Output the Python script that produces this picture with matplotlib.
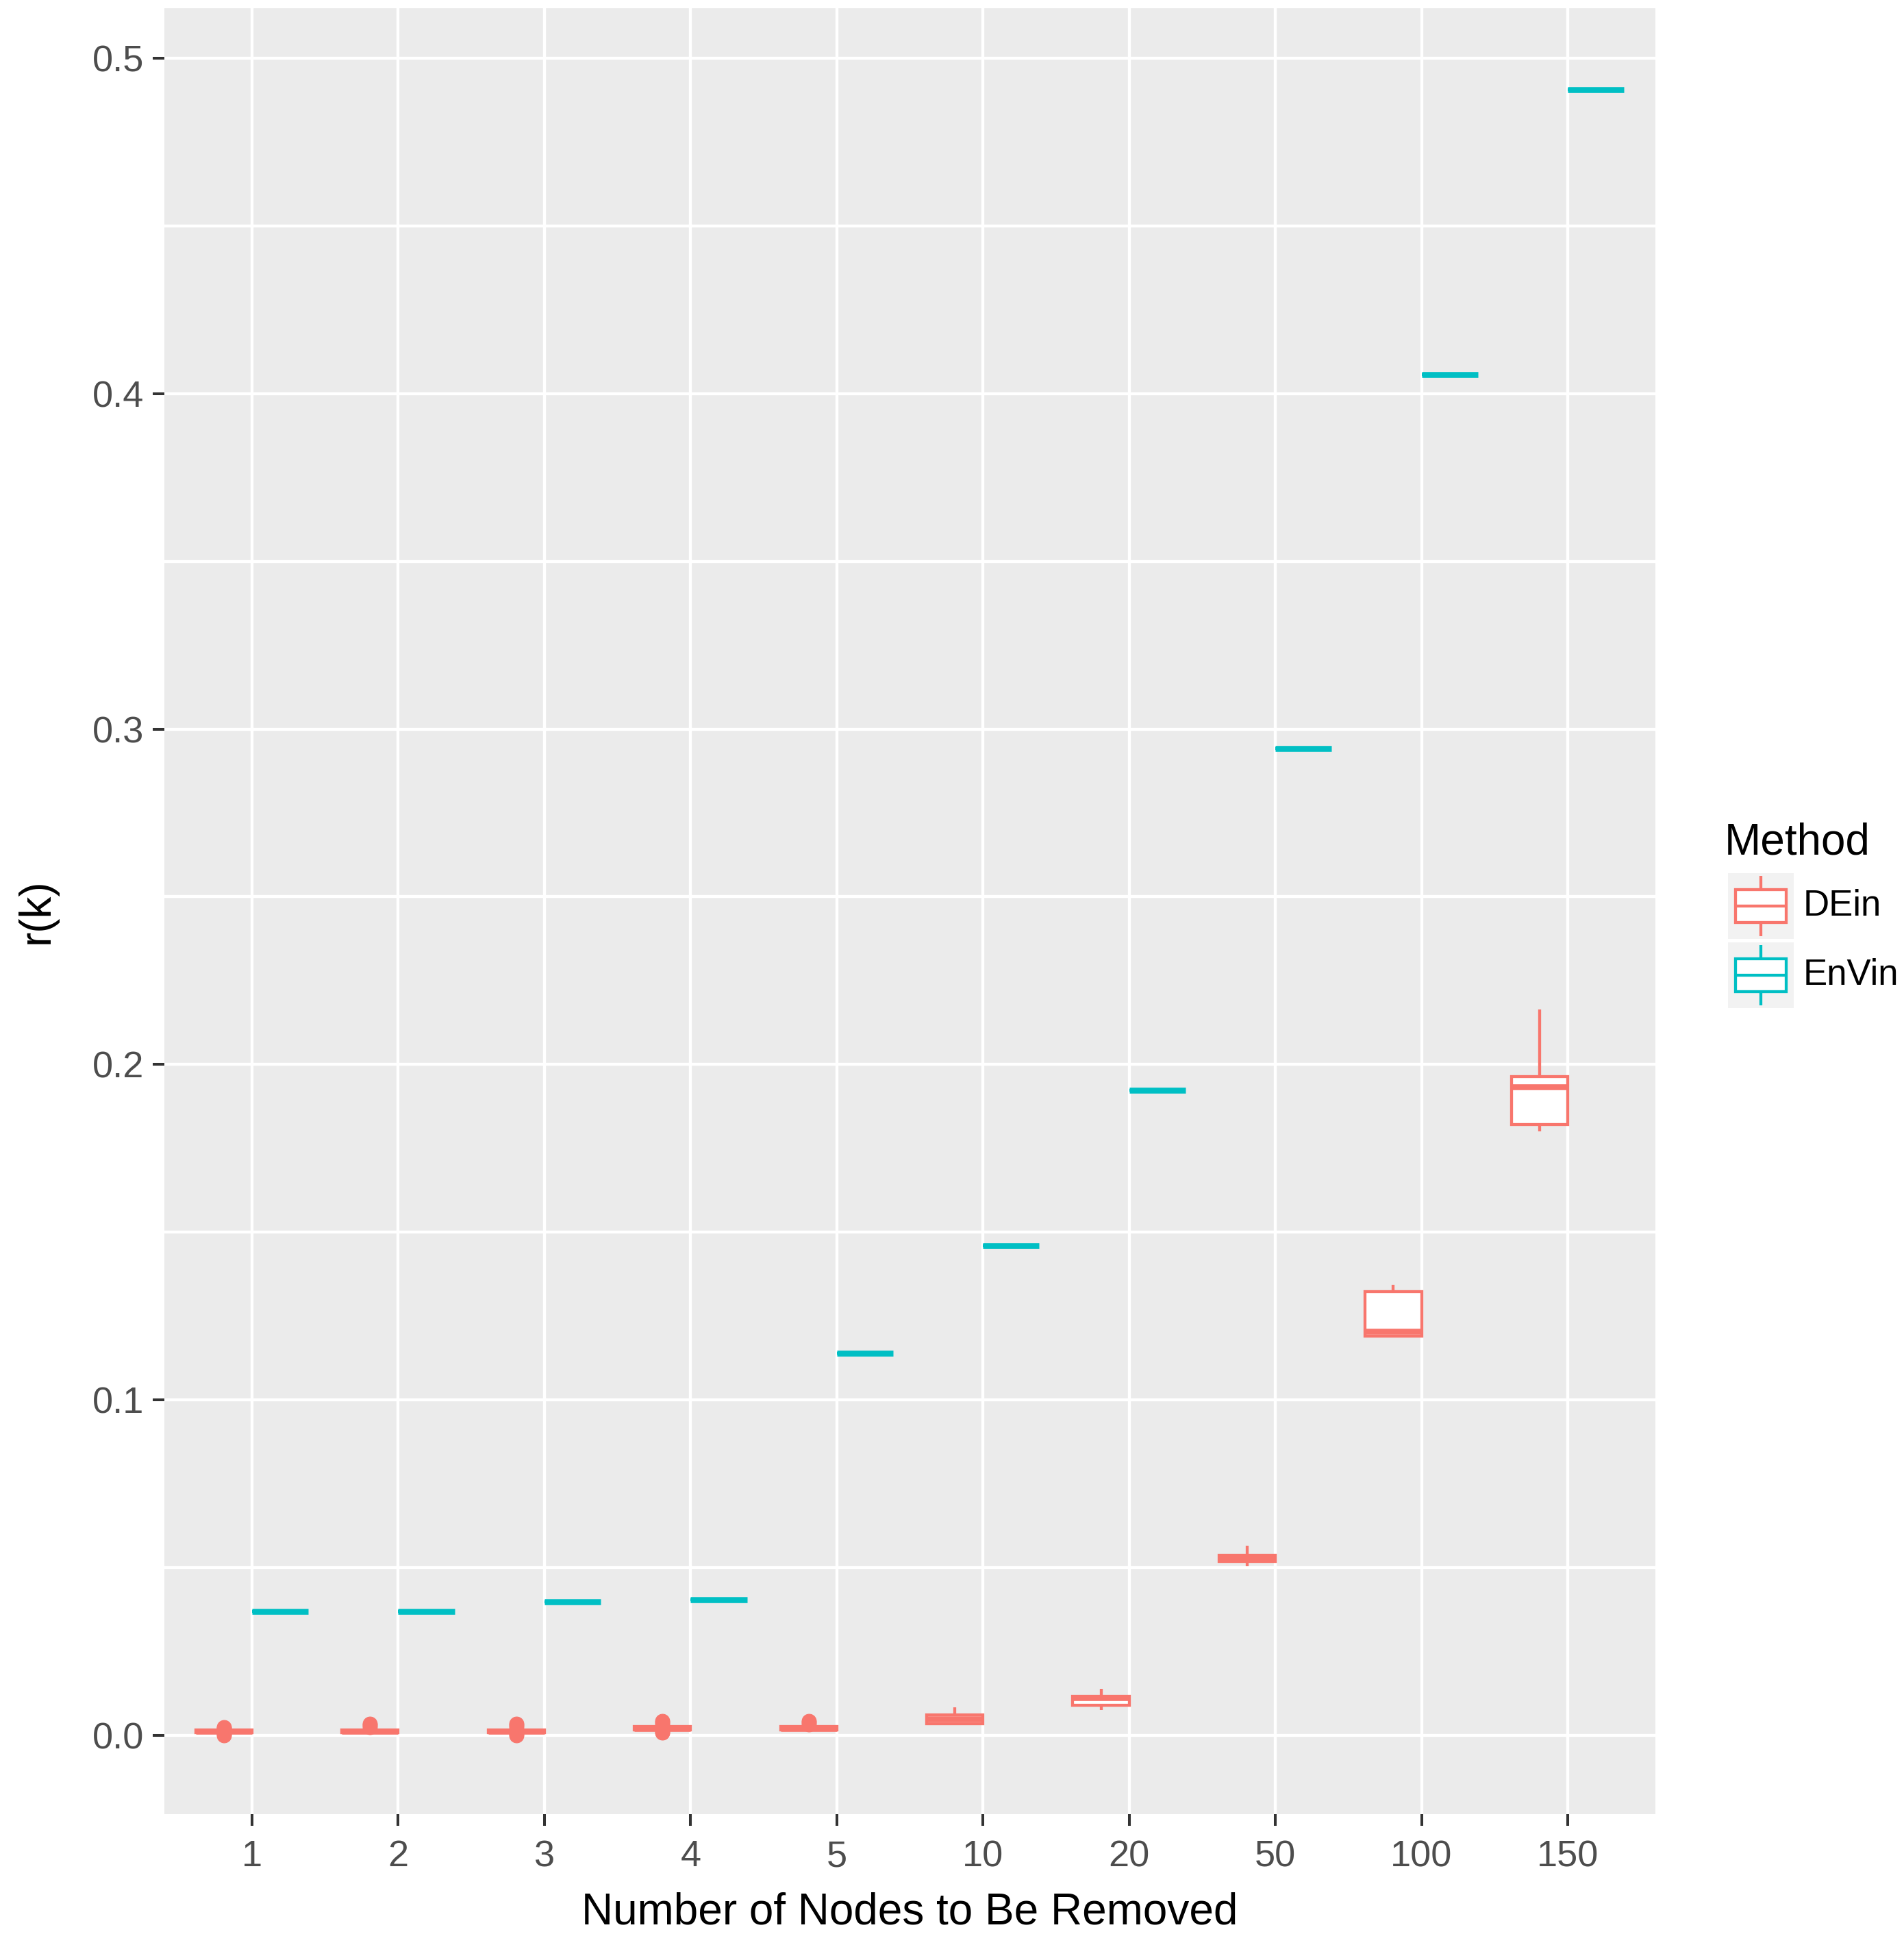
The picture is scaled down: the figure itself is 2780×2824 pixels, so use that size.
import numpy as np
import matplotlib
matplotlib.use("Agg")
import matplotlib.pyplot as plt
from matplotlib.patches import Rectangle

plt.rcParams['font.family'] = ['Liberation Sans', 'DejaVu Sans']

W, H = 2780, 2824

# number of removed nodes (discrete x axis)
nodes = ['1', '2', '3', '4', '5', '10', '20', '50', '100', '150']

# DEin: box statistics over runs
dein_whislo = [0.0008, 0.0008, 0.0008, 0.0016, 0.0016, 0.0034, 0.0075, 0.0505, 0.1189, 0.1800]
dein_q1 = [0.0008, 0.0008, 0.0008, 0.0016, 0.0016, 0.0034, 0.0089, 0.0518, 0.1191, 0.1821]
dein_med = [0.0012, 0.0012, 0.0012, 0.0021, 0.0021, 0.0048, 0.0112, 0.0527, 0.1204, 0.1933]
dein_q3 = [0.0017, 0.0017, 0.0017, 0.0026, 0.0026, 0.0062, 0.0116, 0.0536, 0.1322, 0.1964]
dein_whishi = [0.0017, 0.0017, 0.0017, 0.0026, 0.0026, 0.0084, 0.0138, 0.0566, 0.1344, 0.2164]
dein_outliers = [[0.0, 0.0003, 0.0022, 0.0025],
                 [0.0025, 0.0030, 0.0035],
                 [0.0, 0.0003, 0.0024, 0.0030, 0.0035],
                 [0.0008, 0.0011, 0.0032, 0.0038, 0.0043],
                 [0.0032, 0.0038, 0.0043],
                 [], [], [], [], []]

# EnVin: every run gives the same value
envin_r = [0.0370, 0.0370, 0.0397, 0.0405, 0.1139, 0.1460, 0.1924, 0.2942, 0.4057, 0.4906]

methods = ['DEin', 'EnVin']
colors = ['#F8766D', '#00BFC4']

LW = 3.1


def box_stats(lo, q1, med, q3, hi, fl):
    return [dict(whislo=a, q1=b, med=c, q3=d, whishi=e, fliers=f)
            for a, b, c, d, e, f in zip(lo, q1, med, q3, hi, fl)]


stats = [box_stats(dein_whislo, dein_q1, dein_med, dein_q3, dein_whishi, dein_outliers),
         box_stats(envin_r, envin_r, envin_r, envin_r, envin_r, [[] for _ in nodes])]

fig = plt.figure(figsize=(W / 100, H / 100), dpi=100)
ax = fig.add_axes([240 / W, 1 - 2649 / H, 2177 / W, (2649 - 12) / H])
ax.set_facecolor('#EBEBEB')

x = np.arange(1, len(nodes) + 1)
offsets = [-0.1925, 0.1925]
for st, off, col in zip(stats, offsets, colors):
    # median drawn twice as thick as the box, like ggplot's fatten = 2
    ax.bxp(st, positions=x + off, widths=0.385, patch_artist=True, showcaps=False,
           manage_ticks=False,
           boxprops=dict(facecolor='white', edgecolor=col, linewidth=LW, zorder=3),
           medianprops=dict(color=col, linewidth=2 * LW, solid_capstyle='butt', zorder=4),
           whiskerprops=dict(color=col, linewidth=LW, solid_capstyle='butt', zorder=3),
           flierprops=dict(marker='o', markerfacecolor=col, markeredgecolor=col,
                           markersize=15, markeredgewidth=0.8, linestyle='none', zorder=2))

ax.set_xlim(0.4, len(nodes) + 0.6)
ax.set_ylim(-0.0235, 0.5149)
ax.set_xticks(x)
ax.set_xticklabels(nodes)
yt = np.round(np.arange(0, 0.51, 0.1), 1)
ax.set_yticks(yt)
ax.set_yticklabels(['%.1f' % v for v in yt])
ax.set_yticks(np.round(np.arange(0.05, 0.5, 0.1), 2), minor=True)
ax.set_axisbelow(True)
ax.grid(which='major', color='white', linewidth=LW)
ax.grid(which='minor', axis='y', color='white', linewidth=LW)
for s in ax.spines.values():
    s.set_visible(False)
ax.tick_params(axis='both', which='major', length=12.2, width=2.9, color='#333333',
               labelcolor='#4D4D4D', labelsize=39)
ax.tick_params(axis='y', which='major', pad=9.4)
ax.tick_params(axis='x', which='major', pad=14.5)
ax.tick_params(which='minor', length=0)

fig.text(1328 / W, 1 - 2809 / H, 'Number of Nodes to Be Removed', ha='center',
         va='baseline', fontsize=46)
fig.text(54 / W, 1 - 1330 / H, 'r(k)', ha='center', va='center', rotation=90, fontsize=46)

# legend drawn by hand in figure pixels
lax = fig.add_axes([0, 0, 1, 1], zorder=5)
lax.set_xlim(0, W)
lax.set_ylim(H, 0)
lax.axis('off')
lax.patch.set_alpha(0)
lax.text(2518, 1247, 'Method', ha='left', va='baseline', fontsize=46)
key = 96
for i, (name, col) in enumerate(zip(methods, colors)):
    kx, ky = 2523, 1275 + i * 101
    lax.add_patch(Rectangle((kx, ky), key, key, facecolor='#F2F2F2', edgecolor='none'))
    lax.add_patch(Rectangle((kx + 0.11 * key, ky + 0.25 * key), 0.78 * key, 0.5 * key,
                            facecolor='white', edgecolor=col, linewidth=LW))
    lax.plot([kx + 0.11 * key, kx + 0.89 * key], [ky + 0.5 * key] * 2, color=col,
             linewidth=LW, solid_capstyle='butt')
    lax.plot([kx + 0.5 * key] * 2, [ky + 0.04 * key, ky + 0.25 * key], color=col,
             linewidth=LW, solid_capstyle='butt')
    lax.plot([kx + 0.5 * key] * 2, [ky + 0.75 * key, ky + 0.96 * key], color=col,
             linewidth=LW, solid_capstyle='butt')
    lax.text(2633, ky + key / 2, name, ha='left', va='center', fontsize=38)

fig.savefig('out.png', dpi=100)
